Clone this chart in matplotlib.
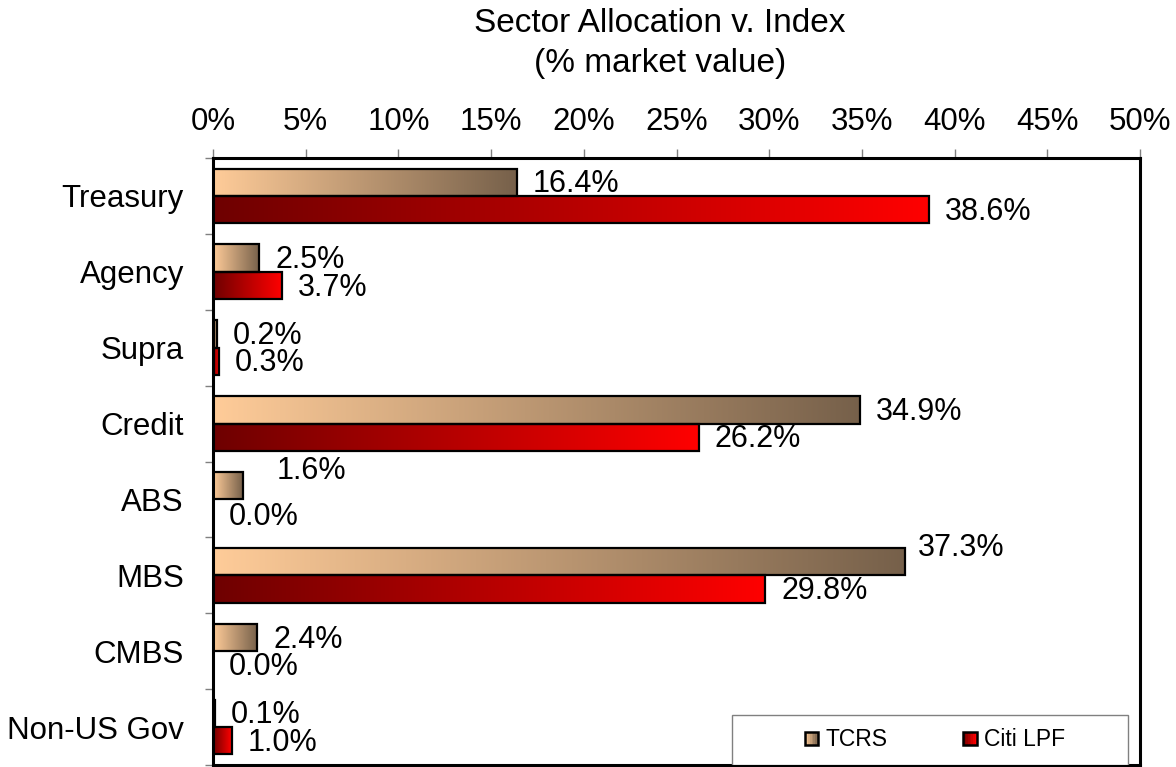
import numpy as np
import matplotlib
matplotlib.use("Agg")
import matplotlib.pyplot as plt
from matplotlib.colors import LinearSegmentedColormap
from matplotlib.patches import Rectangle
from matplotlib.legend_handler import HandlerBase

plt.rcParams['font.family'] = ['Liberation Sans', 'DejaVu Sans']

# data
categories = ["Treasury", "Agency", "Supra", "Credit", "ABS", "MBS", "CMBS", "Non-US Gov"]
tcrs = [16.4, 2.5, 0.2, 34.9, 1.6, 37.3, 2.4, 0.1]
citi = [38.6, 3.7, 0.3, 26.2, 0.0, 29.8, 0.0, 1.0]
series_names = ["TCRS", "Citi LPF"]
xticks = [0, 5, 10, 15, 20, 25, 30, 35, 40, 45, 50]

tcrs_cmap = LinearSegmentedColormap.from_list("tcrs", ["#FFCC99", "#76604A"])
citi_cmap = LinearSegmentedColormap.from_list("citi", ["#6E0000", "#FF0000"])

# label nudges in points (dx, dy) where Excel shifted labels to avoid overlap
nudges = {("TCRS", "ABS"): (13, 12), ("TCRS", "MBS"): (-2, 11), ("Citi LPF", "ABS"): (0, -1)}


class GradHandler(HandlerBase):
    def __init__(self, cmap):
        super().__init__()
        self.cmap = cmap

    def create_artists(self, legend, orig_handle, xdescent, ydescent, width, height, fontsize, trans):
        s = width
        x0 = -xdescent
        y0 = -ydescent + (height - s) / 2
        arts = []
        n = 8
        for k in range(n):
            r = Rectangle((x0 + k * s / n, y0), s / n, s, facecolor=self.cmap(k / (n - 1)),
                          edgecolor='none', transform=trans)
            arts.append(r)
        arts.append(Rectangle((x0, y0), s, s, facecolor='none', edgecolor='black', lw=1.8, transform=trans))
        return arts


W, H = 1176, 767
fig = plt.figure(figsize=(W / 100, H / 100), dpi=100)
ax = fig.add_axes([213 / W, 2 / H, 927 / W, 607 / H])

bh = 0.36
grad = np.linspace(0, 1, 256).reshape(1, -1)
for i, cat in enumerate(categories):
    for name, vals, cmap, off in [("TCRS", tcrs, tcrs_cmap, -bh / 2), ("Citi LPF", citi, citi_cmap, bh / 2)]:
        v = vals[i]
        yc = i + off
        if v > 0:
            ax.imshow(grad, extent=[0, v, yc + bh / 2, yc - bh / 2], aspect='auto', cmap=cmap,
                      interpolation='bilinear', zorder=2)
            ax.barh(yc, v, height=bh, color='none', edgecolor='black', linewidth=1.6, zorder=3)
        dx, dy = nudges.get((name, cat), (0, 0))
        ax.annotate(f"{v:.1f}%", xy=(v, yc), xytext=(11.5 + dx, dy - 1.5), textcoords='offset points',
                    ha='left', va='center', fontsize=22, color='black', zorder=4)

ax.set_xlim(0, 50)
ax.set_ylim(len(categories) - 0.5, -0.5)
ax.set_aspect('auto')

ax.xaxis.tick_top()
ax.set_xticks(xticks)
ax.set_xticklabels([f"{t}%" for t in xticks])
ax.tick_params(axis='x', which='major', direction='out', length=6.5, width=1, color='#808080',
               labelsize=22.5, pad=8.5)

ax.set_yticks(range(len(categories)))
ax.set_yticklabels(categories)
ax.set_yticks(np.arange(-0.5, len(categories), 1), minor=True)
ax.tick_params(axis='y', which='major', length=0, labelsize=22.5, pad=21)
ax.tick_params(axis='y', which='minor', direction='out', length=6, width=1, color='#808080')

for side in ['top', 'left', 'right', 'bottom']:
    ax.spines[side].set_linewidth(2.2)
    ax.spines[side].set_color('black')

# legend box
lx0, lx1 = (732 - 213) / 927, (1128 - 213) / 927
ly1 = (765 - 715) / 607
ax.add_patch(Rectangle((lx0, 0), lx1 - lx0, ly1, transform=ax.transAxes, facecolor='white',
                       edgecolor='#808080', lw=1, zorder=5))
h1 = Rectangle((0, 0), 1, 1)
h2 = Rectangle((0, 0), 1, 1)
leg = ax.legend([h1, h2], series_names, loc='center', bbox_to_anchor=((lx0 + lx1) / 2 + 0.005, ly1 / 2),
                bbox_transform=ax.transAxes, ncol=2, frameon=False, fontsize=16.5,
                handlelength=0.6, handletextpad=0.3, columnspacing=3.3,
                handler_map={h1: GradHandler(tcrs_cmap), h2: GradHandler(citi_cmap)})
leg.set_zorder(6)

fig.text(660 / W, 1 - 32 / H, "Sector Allocation v. Index", ha='center', va='baseline', fontsize=24)
fig.text(660 / W, 1 - 72 / H, "(% market value)", ha='center', va='baseline', fontsize=24)

fig.savefig("out.png", dpi=100)
